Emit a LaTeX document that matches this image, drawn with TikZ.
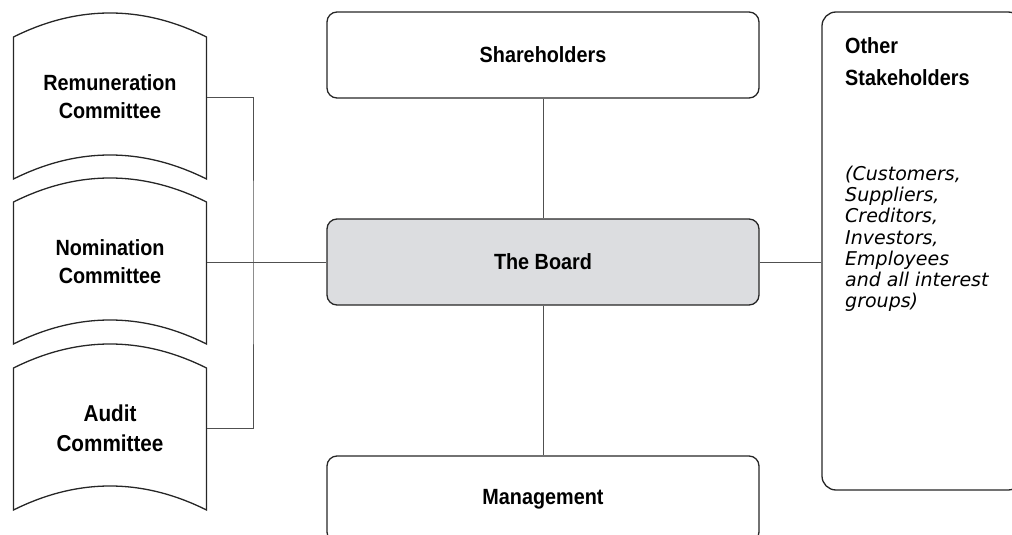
\documentclass[tikz,border=0pt]{standalone}
\usepackage{fontspec}
\setmainfont{Liberation Sans}
\newfontfamily\headfont[FakeStretch=0.9]{Liberation Sans}
\newfontfamily\listfont{DejaVu Sans}
\usetikzlibrary{positioning}
\definecolor{boardgray}{RGB}{220,221,224}
\definecolor{edge}{RGB}{38,38,38}
\definecolor{wire}{RGB}{80,80,80}
\tikzset{
  box/.style={draw=edge, line width=1.3pt, rounded corners=10pt, minimum width=432pt, minimum height=86pt, font=\headfont\bfseries\fontsize{22}{28}\selectfont},
  committee/.style={minimum width=193pt, inner sep=0pt, align=center, font=\headfont\bfseries\fontsize{22}{28}\selectfont},
  outline/.style={draw=edge, line width=1.3pt},
  link/.style={draw=wire, line width=1pt}
}

\begin{document}
\begin{tikzpicture}[x=1pt, y=-1pt]
    \useasboundingbox (0,0) rectangle (1012,535);
    \clip (0,0) rectangle (1012,535);
    \node [box] (share) at (543,55) {Shareholders};
    \node [box, fill=boardgray] (board) at (543,262) {The Board};
    \node [box] (mgmt) at (543,499) {Management};
    \node [box, minimum width=200pt, minimum height=478pt, rounded corners=14pt] (stake) at (922,251) {};
    \node [anchor=north west, inner sep=0pt, align=left, font=\headfont\bfseries\fontsize{22}{32}\selectfont] (stakename) at (845,37) {Other\\Stakeholders};
    \node [below=80pt of stakename.south west, anchor=north west, inner sep=0pt, align=left, font=\listfont\itshape\fontsize{19}{21.3}\selectfont] (stakelist) {(Customers,\\Suppliers,\\Creditors,\\Investors,\\Employees\\and all interest\\groups)};
    \node [committee] (rem) at (110,97) {Remuneration\\Committee};
    \node [committee] (nom) at (110,262) {Nomination\\Committee};
    \node [committee, font=\headfont\bfseries\fontsize{23}{30}\selectfont] (aud) at (110,428) {Audit\\Committee};
    % committee outlines
    \foreach \c in {rem, nom, aud}
        \draw [outline] ([shift={(-96.5,-60)}]\c.center) .. controls +(64,-32) and +(-64,-32) .. ([shift={(96.5,-60)}]\c.center)
            -- ([shift={(96.5,82)}]\c.center) .. controls +(-64,-32) and +(64,-32) .. ([shift={(-96.5,82)}]\c.center) -- cycle;
    \coordinate (bus) at (253,262);
    \draw [link] (rem.east) -| (bus) |- (aud.east);
    \draw [link] (nom.east) -- (board.west);
    \draw [link] (share) -- (board);
    \draw [link] (board) -- (mgmt);
    \draw [link] (board.east) -- (board.east -| stake.west);
\end{tikzpicture}
\end{document}
